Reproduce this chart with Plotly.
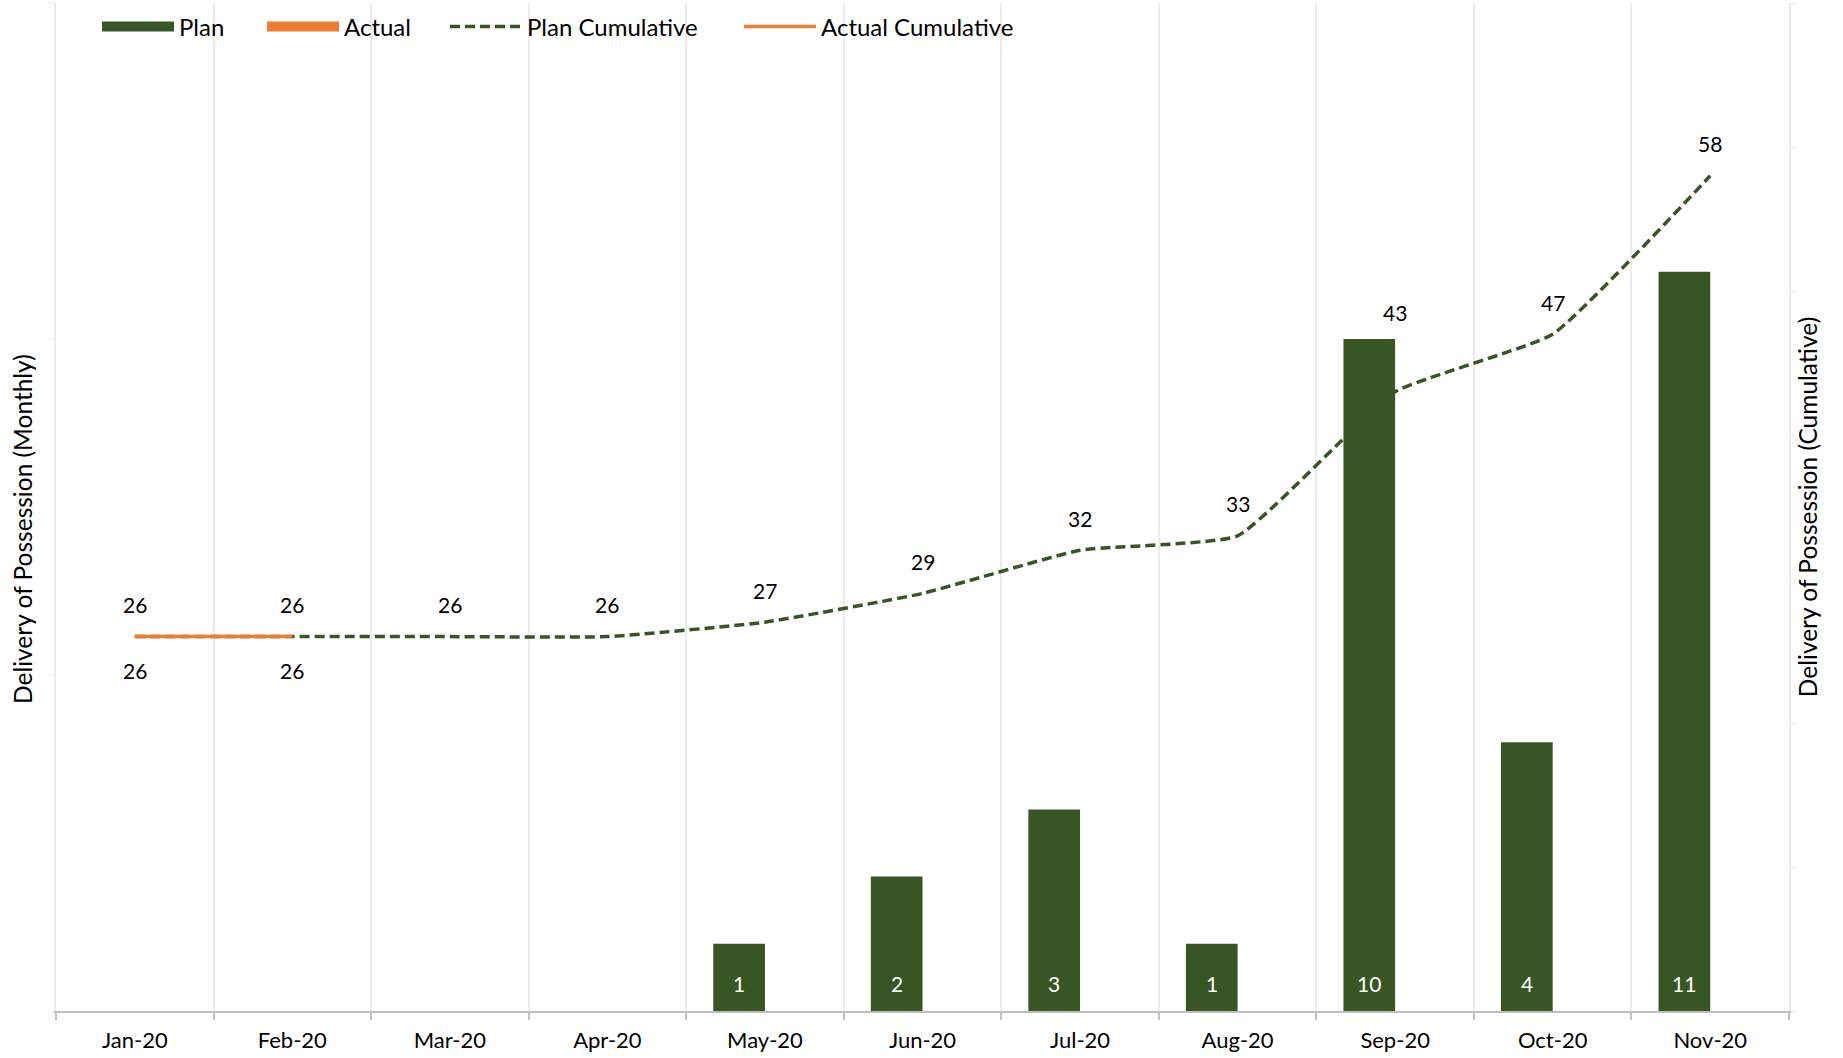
import plotly.graph_objects as go

months = ["Jan-20", "Feb-20", "Mar-20", "Apr-20", "May-20", "Jun-20",
          "Jul-20", "Aug-20", "Sep-20", "Oct-20", "Nov-20"]
plan_monthly = [0, 0, 0, 0, 1, 2, 3, 1, 10, 4, 11]
actual_monthly = [0, 0, 0, 0, 0, 0, 0, 0, 0, 0, 0]
plan_cumulative = [26, 26, 26, 26, 27, 29, 32, 33, 43, 47, 58]
actual_months = ["Jan-20", "Feb-20"]
actual_cumulative = [26, 26]

GREEN = "#375623"
ORANGE = "#ED7D31"
FONT = "Lato"

W, H = 1843, 1058
ML, MR, MT, MB = 56, 54, 3, 47
BARGAP = 0.344
PW, PH = W - ML - MR, H - MT - MB

# label placement (style, not data)
plan_label_shift = {m: 32 for m in months}
plan_label_shift["Sep-20"] = 79
actual_label_shift = -34
cat_px = PW / len(months)
bar_px = cat_px * (1 - BARGAP) / 2
bar_label_xshift = -bar_px / 2
bar_label_yshift = 28

# legend entry positions (px from left edge of figure)
legend_px = [97, 262, 445, 739]
legend_y = (H - MB - 27) / PH

fig = go.Figure()

# cumulative lines on base axis (drawn underneath the bars)
fig.add_trace(go.Scatter(
    x=months, y=plan_cumulative, name="Plan Cumulative", mode="lines",
    line=dict(color=GREEN, width=3.5, dash="10px,5px", shape="spline", smoothing=0.4),
    yaxis="y", legend="legend3"))
fig.add_trace(go.Scatter(
    x=actual_months, y=actual_cumulative, name="Actual Cumulative", mode="lines",
    line=dict(color=ORANGE, width=3.5),
    yaxis="y", legend="legend4"))

# monthly bars on overlaying axis (drawn above the lines)
fig.add_trace(go.Bar(
    x=months, y=plan_monthly, name="Plan", marker=dict(color=GREEN, line=dict(width=0)),
    yaxis="y2", showlegend=False, legendgroup="plan"))
fig.add_trace(go.Bar(
    x=months, y=actual_monthly, name="Actual", marker=dict(color=ORANGE, line=dict(width=0)),
    yaxis="y2", showlegend=False, legendgroup="actual"))

# legend-only entries giving the bars wide rectangular swatches
fig.add_trace(go.Scatter(x=[None], y=[None], mode="lines", name="Plan",
                         line=dict(color=GREEN, width=14), legendgroup="plan", legend="legend"))
fig.add_trace(go.Scatter(x=[None], y=[None], mode="lines", name="Actual",
                         line=dict(color=ORANGE, width=14), legendgroup="actual", legend="legend2"))

annotations = []
for m, v in zip(months, plan_cumulative):
    annotations.append(dict(x=m, y=v, xref="x", yref="y", text=str(v), showarrow=False,
                            yshift=plan_label_shift[m], font=dict(size=21, color="black", family=FONT)))
for m, v in zip(actual_months, actual_cumulative):
    annotations.append(dict(x=m, y=v, xref="x", yref="y", text=str(v), showarrow=False,
                            yshift=actual_label_shift, font=dict(size=21, color="black", family=FONT)))
for m, v in zip(months, plan_monthly):
    if v:
        annotations.append(dict(x=m, y=0, xref="x", yref="y2", text=str(v), showarrow=False,
                                xshift=bar_label_xshift, yshift=bar_label_yshift,
                                font=dict(size=21, color="white", family=FONT)))

# left axis title (placed as rotated text, as in the reference)
annotations.append(dict(text="Delivery of Possession (Monthly)", textangle=-90, showarrow=False,
                        xref="paper", yref="paper", x=(23 - ML) / PW, y=(H - MB - 529) / PH,
                        xanchor="center", yanchor="middle",
                        font=dict(size=24.5, family=FONT, color="black")))

def leg(px):
    return dict(orientation="h", x=(px - ML) / PW, xanchor="left", y=legend_y, yanchor="middle",
                bgcolor="rgba(0,0,0,0)", font=dict(size=24, family=FONT), itemwidth=72)

fig.update_layout(
    width=W, height=H,
    margin=dict(l=ML, r=MR, t=MT, b=MB, autoexpand=False),
    paper_bgcolor="white", plot_bgcolor="white",
    font=dict(family=FONT, size=21, color="black"),
    barmode="group", bargap=BARGAP, bargroupgap=0,
    showlegend=True,
    legend=leg(legend_px[0]), legend2=leg(legend_px[1]),
    legend3=leg(legend_px[2]), legend4=leg(legend_px[3]),
    annotations=annotations,
    shapes=[dict(type="rect", xref="paper", yref="paper", layer="below",
                 x0=0.003, x1=(1046 - ML) / PW, y0=(H - MB - 53) / PH, y1=1,
                 fillcolor="white", line=dict(width=0))],
    xaxis=dict(type="category", tickson="boundaries", showgrid=True, gridcolor="#ececec",
               gridwidth=1.5, showline=True, linecolor="#bfbfbf", linewidth=2,
               ticks="outside", ticklen=7, tickcolor="#bfbfbf", tickwidth=1.5,
               ticklabelstandoff=9,
               tickfont=dict(size=22, family=FONT), range=[-0.5, 10.5], automargin=False),
    yaxis=dict(side="right", range=[0, 70], dtick=10, showticklabels=False, showgrid=False,
               zeroline=False, showline=True, linecolor="#ececec", linewidth=2,
               ticks="outside", ticklen=6, tickcolor="#ececec", automargin=False,
               title=dict(text="Delivery of Possession (Cumulative)", standoff=4,
                          font=dict(size=24.5, family=FONT))),
    yaxis2=dict(side="left", overlaying="y", range=[0, 15], dtick=5, showticklabels=False,
                showgrid=False, zeroline=False, showline=True, linecolor="#ececec", linewidth=2,
                ticks="outside", ticklen=6, tickcolor="#ececec", automargin=False),
)

fig.write_html("out.html", config={"displayModeBar": False},
               post_script="document.body.style.margin='0';")
